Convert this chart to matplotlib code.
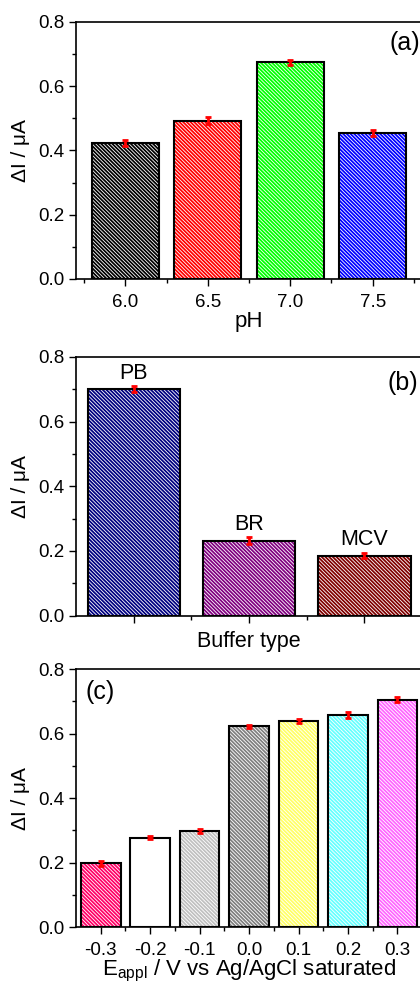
import matplotlib
matplotlib.use('Agg')

import numpy as np
import matplotlib.pyplot as plt
from matplotlib.ticker import MultipleLocator, FixedLocator

plt.rcParams['font.family'] = ['Liberation Sans', 'DejaVu Sans']
plt.rcParams['hatch.linewidth'] = 0.6
plt.rcParams['mathtext.default'] = 'regular'

# (a) pH study
ph_values = [6.0, 6.5, 7.0, 7.5]
ph_current = [0.423, 0.492, 0.675, 0.455]
ph_error = [0.010, 0.011, 0.008, 0.009]
ph_colors = ['#000000', '#ff0000', '#00ff00', '#0000ff']

# (b) buffer type
buffer_names = ['PB', 'BR', 'MCV']
buffer_current = [0.701, 0.232, 0.186]
buffer_error = [0.009, 0.010, 0.007]
buffer_colors = ['#000080', '#800080', '#800000']

# (c) applied potential
potentials = [-0.3, -0.2, -0.1, 0.0, 0.1, 0.2, 0.3]
potential_current = [0.198, 0.277, 0.298, 0.623, 0.640, 0.658, 0.705]
potential_error = [0.008, 0.004, 0.005, 0.005, 0.006, 0.008, 0.008]
potential_colors = ['#ff0066', '#ffffff', '#c0c0c0', '#808080',
                    '#ffff66', '#66ffff', '#ff66ff']

HATCH = '\\' * 9


def hatched_bars(ax, x, y, width, colors):
    # filled bars with white hatching, then black outlines on top
    for xi, yi, c in zip(x, y, colors):
        ax.bar(xi, yi, width, color=c, edgecolor='white', linewidth=0,
               hatch=HATCH, zorder=2)
    ax.bar(x, y, width, fill=False, edgecolor='black', linewidth=1.5, zorder=3)


def error_bars(ax, x, y, err):
    ax.errorbar(x, y, yerr=err, fmt='none', ecolor='red', elinewidth=2,
                capsize=2.5, capthick=2, zorder=4)


def style_axis(ax):
    ax.set_ylim(0, 0.8)
    ax.yaxis.set_major_locator(MultipleLocator(0.2))
    ax.yaxis.set_minor_locator(MultipleLocator(0.1))
    ax.yaxis.set_major_formatter(plt.FormatStrFormatter('%.1f'))
    ax.tick_params(which='both', direction='out', width=1, labelsize=13.5)
    ax.tick_params(which='major', length=5)
    ax.tick_params(which='minor', length=3)
    ax.tick_params(axis='x', pad=6)
    for s in ax.spines.values():
        s.set_linewidth(1.2)
    ax.set_ylabel('ΔI / μA', fontsize=15, labelpad=6)


fig = plt.figure(figsize=(4.2, 9.84), dpi=100)

# panel (a)
ax1 = fig.add_axes([0.181, 0.7165, 0.824, 0.2612])
hatched_bars(ax1, ph_values, ph_current, 0.405, ph_colors)
error_bars(ax1, ph_values, ph_current, ph_error)
ax1.set_xlim(5.70, 7.80)
ax1.xaxis.set_major_locator(FixedLocator(ph_values))
ax1.xaxis.set_minor_locator(FixedLocator([5.75, 6.25, 6.75, 7.25, 7.75]))
ax1.xaxis.set_major_formatter(plt.FormatStrFormatter('%.1f'))
style_axis(ax1)
ax1.set_xlabel('pH', fontsize=16, labelpad=0)
ax1.text(0.905, 0.918, '(a)', transform=ax1.transAxes, fontsize=18,
         ha='left', va='center')

# panel (b)
ax2 = fig.add_axes([0.181, 0.3743, 0.824, 0.263])
pos = np.arange(1, len(buffer_names) + 1)
hatched_bars(ax2, pos, buffer_current, 0.80, buffer_colors)
error_bars(ax2, pos, buffer_current, buffer_error)
for p, v, name in zip(pos, buffer_current, buffer_names):
    ax2.text(p, v + 0.016, name, ha='center', va='bottom', fontsize=15.5)
ax2.set_xlim(0.5, 3.5)
ax2.xaxis.set_major_locator(FixedLocator(pos))
ax2.xaxis.set_minor_locator(FixedLocator([1.5, 2.5]))
style_axis(ax2)
ax2.set_xticklabels([])
ax2.set_xlabel('Buffer type', fontsize=15.5, labelpad=0)
ax2.text(0.9, 0.898, '(b)', transform=ax2.transAxes, fontsize=18,
         ha='left', va='center')

# panel (c)
ax3 = fig.add_axes([0.181, 0.0579, 0.824, 0.262])
hatched_bars(ax3, potentials, potential_current, 0.08, potential_colors)
error_bars(ax3, potentials, potential_current, potential_error)
ax3.set_xlim(-0.35, 0.35)
ax3.xaxis.set_major_locator(FixedLocator(potentials))
ax3.xaxis.set_minor_locator(FixedLocator(np.arange(-0.25, 0.3, 0.1)))
ax3.xaxis.set_major_formatter(plt.FormatStrFormatter('%.1f'))
style_axis(ax3)
ax3.set_xlabel(r'E$_{appl}$ / V vs Ag/AgCl saturated', fontsize=16, labelpad=-1)
ax3.text(0.026, 0.911, '(c)', transform=ax3.transAxes, fontsize=18,
         ha='left', va='center')

fig.savefig('out.png', dpi=100)
